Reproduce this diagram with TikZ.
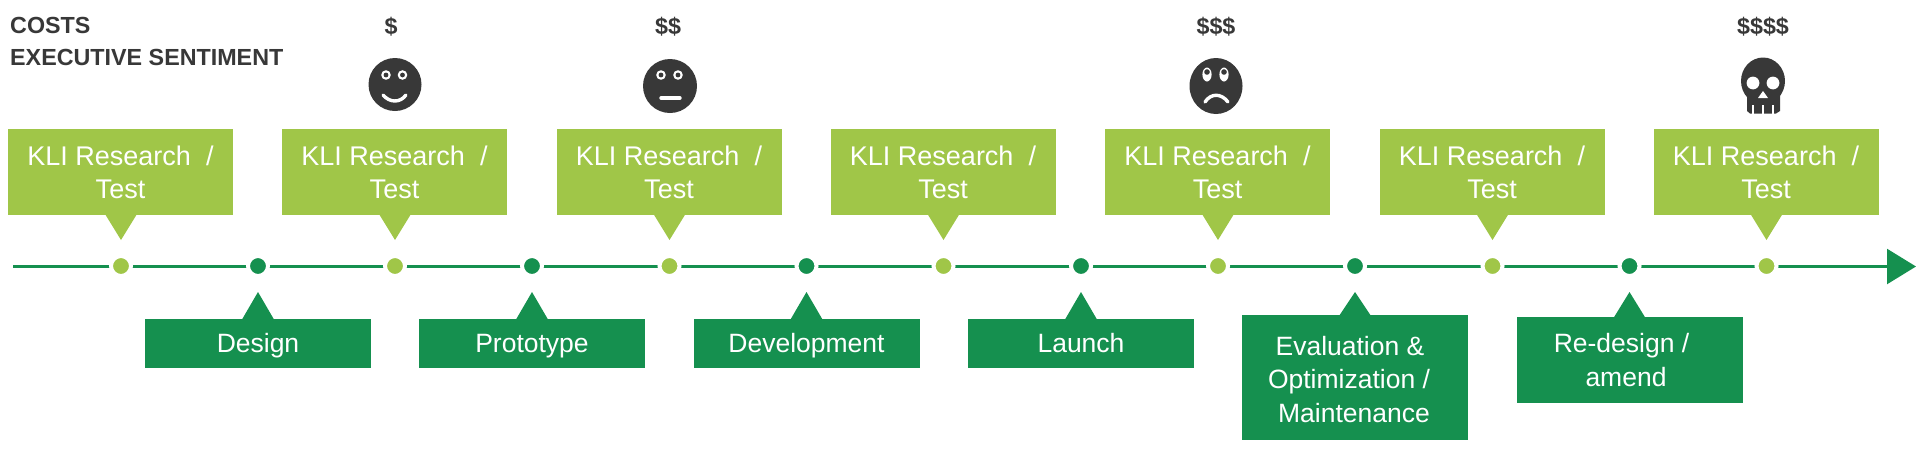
\documentclass[tikz,border=0pt]{standalone}
\usepackage{fontspec}
\setmainfont{Liberation Sans}
\usetikzlibrary{arrows.meta}
\definecolor{lime}{HTML}{A0C648}
\definecolor{forest}{HTML}{15904F}
\definecolor{ink}{HTML}{383838}
\tikzset{
  kli/.style={fill=lime,text=white,minimum width=225pt,minimum height=86pt,inner sep=0pt,align=center,font=\fontsize{27}{33}\selectfont},
  phase/.style={fill=forest,text=white,minimum width=226pt,inner sep=0pt,align=center,font=\fontsize{26.5}{33.5}\selectfont},
  oneline/.style={text height=19pt,text depth=0pt},
  kdot/.style={circle,fill=lime,draw=white,line width=4pt,minimum size=20pt,inner sep=0pt},
  pdot/.style={circle,fill=forest,draw=white,line width=4pt,minimum size=20pt,inner sep=0pt},
  heading/.style={anchor=west,inner sep=0pt,text=ink,font=\fontsize{23.3}{28}\selectfont\bfseries},
  cost/.style={inner sep=0pt,text=ink,font=\fontsize{23.3}{28}\selectfont\bfseries},
  feature/.style={white,line width=3.4pt,line cap=round},
}
% Lowers a line of text without changing the size it reports
\newcommand{\dropped}[2]{\raisebox{-#1}[\height][\depth]{#2}}
\newcommand{\klibox}[3]{%
  \node[kli] (#1) at (#2,172) {KLI Research\ \ /\\Test};
  \fill[lime] (#3-16,214) -- (#3+16,214) -- (#3,240) -- cycle;
  \node[kdot] (#1dot) at (#3,266) {};}
\newcommand{\phasebox}[7]{%
  \node[phase,minimum height=#4pt,#6] (#1) at (#2,#3) {#7};
  \fill[forest] (#5-16,#3-#4/2+1) -- (#5+16,#3-#4/2+1) -- (#5,292) -- cycle;
  \node[pdot] (#1dot) at (#5,266) {};}
\begin{document}
\begin{tikzpicture}[x=1pt,y=-1pt]
\useasboundingbox (0,0) rectangle (1928,456);

% Timeline with its arrowhead
\coordinate (start) at (13,266.5);
\coordinate (finish) at (1916,266.5);
\draw[forest,line width=2.4pt,-{Triangle[length=29pt,width=35pt]}] (start) -- (finish);

% Research gates above the line
\klibox{ka}{120.5}{121}
\klibox{kb}{394.5}{395}
\klibox{kc}{669}{669.5}
\klibox{kd}{943}{943.5}
\klibox{ke}{1217.5}{1218}
\klibox{kf}{1492}{1492.5}
\klibox{kg}{1766}{1766.5}

% Phases below the line
\phasebox{design}{258}{343}{49}{258}{oneline}{Design}
\phasebox{proto}{532}{343}{49}{532}{oneline}{Prototype}
\phasebox{devel}{806.5}{343}{49}{806.5}{oneline}{Development}
\phasebox{launch}{1081}{343}{49}{1081}{oneline}{Launch}
\phasebox{evalu}{1355}{377.5}{125}{1355}{}{\dropped{2pt}{\hspace*{-10pt}Evaluation \&}\\\dropped{2pt}{\hspace*{-12pt}Optimization /}\\\dropped{2pt}{\hspace*{-2pt}Maintenance}}
\phasebox{amend}{1629.5}{360}{86}{1629.5}{}{\hspace*{-16pt}Re-design /\\\hspace*{-7pt}amend}

% Row headings and cost marks
\node[heading] (costs) at (10,25) {COSTS};
\node[heading] (mood) at (10,57) {EXECUTIVE SENTIMENT};
\node[cost] (c1) at (391,26.5) {\$};
\node[cost] (c2) at (668,26.5) {\$\$};
\node[cost] (c3) at (1216,26.5) {\$\$\$};
\node[cost] (c4) at (1763,26.5) {\$\$\$\$};

% Smiling face
\fill[ink] (395,84.5) circle (26.5);
\fill[white] (386,75) circle (4.8) (402.5,75) circle (4.8);
\fill[ink] (386,75) circle (2.4) (402.5,75) circle (2.4);
\draw[feature] (383,95) .. controls (390,103) and (400,103) .. (406,95);

% Neutral face
\fill[ink] (670,86) circle (27);
\fill[white] (661,75) circle (4.8) (678,75) circle (4.8);
\fill[ink] (661,75) circle (2.4) (678,75) circle (2.4);
\draw[feature] (661,98) -- (680,98);

% Unhappy face
\fill[ink] (1216,86) ellipse (26.5 and 28);
\fill[white] (1207,74.5) ellipse (4.6 and 7) (1224,74.5) ellipse (4.6 and 7);
\fill[ink] (1207,72) circle (2.8) (1224,72) circle (2.8);
\draw[feature] (1205,102) .. controls (1211,93) and (1221,93) .. (1228,102);

% Skull
\fill[ink] (1763,81) ellipse (22 and 23.5);
\fill[ink] (1747,90) -- (1780,90) -- (1780,111) -- (1776,113.5) -- (1750,113.5) -- (1747,111) -- cycle;
\fill[white] (1753,83) circle (6.4) (1773,83) circle (6.4);
\fill[white] (1763,91) -- (1758,98) -- (1768,98) -- cycle;
\draw[white,line width=2pt] (1753,105) -- (1753,114) (1763,105) -- (1763,114) (1773,105) -- (1773,114);
\end{tikzpicture}
\end{document}
